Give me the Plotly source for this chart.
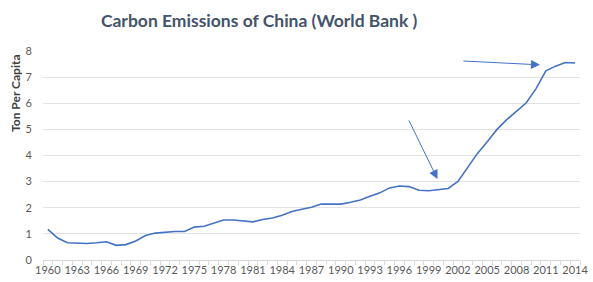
import plotly.graph_objects as go

years = list(range(1960, 2015))
co2_per_capita = [1.17, 0.84, 0.66, 0.64, 0.63, 0.66, 0.70, 0.56, 0.59, 0.73,
                  0.94, 1.03, 1.07, 1.09, 1.09, 1.26, 1.29, 1.40, 1.53, 1.53,
                  1.49, 1.46, 1.55, 1.61, 1.71, 1.86, 1.94, 2.02, 2.14, 2.13,
                  2.14, 2.21, 2.30, 2.44, 2.57, 2.76, 2.83, 2.81, 2.67, 2.65,
                  2.70, 2.74, 3.01, 3.53, 4.08, 4.53, 5.00, 5.37, 5.71, 6.02,
                  6.56, 7.24, 7.42, 7.56, 7.54]
tick_years = list(range(1960, 2015, 3))
y_ticks = list(range(0, 9))

# arrows (tail -> head) in data units
arrow_tail_x = [1996.9, 2002.4]
arrow_tail_y = [5.4, 7.62]
arrow_head_x = [1999.9, 2010.4]
arrow_head_y = [3.1, 7.47]

line_color = "#4472C4"
text_color = "#595959"
font_family = "Lato, 'Open Sans', sans-serif"

fig = go.Figure()
fig.add_trace(go.Scatter(x=years, y=co2_per_capita, mode="lines",
                         line=dict(color=line_color, width=1.6),
                         showlegend=False, hoverinfo="x+y"))

for tx, ty, hx, hy in zip(arrow_tail_x, arrow_tail_y, arrow_head_x, arrow_head_y):
    fig.add_annotation(x=hx, y=hy, ax=tx, ay=ty, xref="x", yref="y",
                       axref="x", ayref="y", text="", showarrow=True,
                       arrowhead=2, arrowsize=1.8, arrowwidth=1,
                       arrowcolor=line_color)

fig.add_annotation(text="<b>Ton Per Capita</b>", textangle=-90,
                   xref="paper", yref="paper", x=-0.05, y=0.795,
                   showarrow=False, xanchor="center", yanchor="middle",
                   font=dict(size=12, color="#404040", family=font_family))

fig.update_layout(
    width=593, height=282,
    margin=dict(l=43, r=5, t=51, b=22),
    paper_bgcolor="white", plot_bgcolor="white",
    title=dict(text="<b>Carbon Emissions of China (World Bank )</b>",
               x=0.437, xanchor="center", y=0.925, yanchor="middle",
               font=dict(size=17.5, color="#44546A", family=font_family)),
    font=dict(family=font_family, color=text_color, size=11),
    xaxis=dict(range=[1959.5, 2014.5], tickvals=tick_years,
               ticktext=[str(y) for y in tick_years], showgrid=False,
               ticks="", showline=True, linecolor="#D9D9D9", linewidth=1,
               zeroline=False, tickfont=dict(size=11, color=text_color),
               ticklabeloverflow="allow",
               minor=dict(ticks="outside", ticklen=4, tick0=1959.5, dtick=1,
                          tickcolor="#D9D9D9", showgrid=False)),
    yaxis=dict(range=[0, 8], tickvals=y_ticks, showgrid=True,
               gridcolor="#E3E3E3", gridwidth=1, zeroline=False,
               showline=False, ticks="", ticklabelstandoff=10,
               tickfont=dict(size=11, color=text_color)),
)

fig.write_html("out.html", config={"displayModeBar": False},
               post_script="document.body.style.margin='0px';"
                           "document.body.style.overflow='hidden';")
